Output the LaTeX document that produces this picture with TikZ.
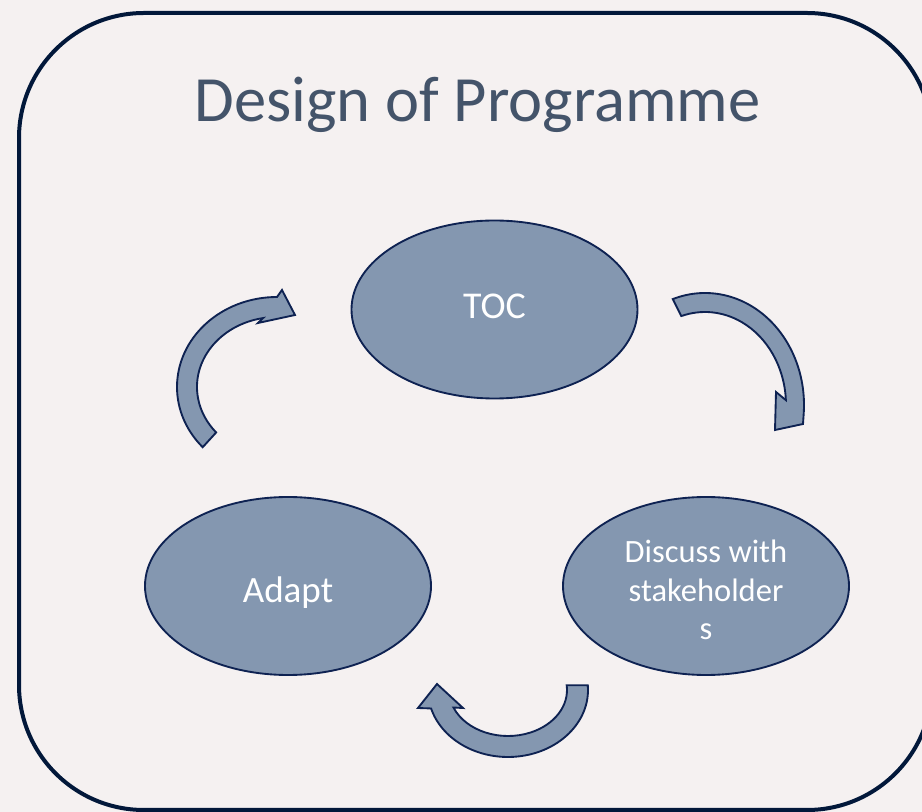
\documentclass[tikz,border=0pt]{standalone}
\usepackage{fontspec}
\setmainfont{Carlito}
\usetikzlibrary{shapes.geometric,calc}
\definecolor{bg}{RGB}{245,241,241}
\definecolor{framecol}{RGB}{2,24,58}
\definecolor{titlecol}{RGB}{68,84,106}
\definecolor{fillcol}{RGB}{132,151,176}
\definecolor{edgecol}{RGB}{14,34,82}
\begin{document}
\begin{tikzpicture}[x=0.75pt,y=-0.75pt,
  cyclenode/.style={ellipse, draw=edgecol, line width=1.4pt, fill=fillcol,
    minimum width=214.5pt, minimum height=133.5pt, inner sep=0pt,
    text=white, align=center},
  blockarrow/.style={draw=edgecol, line width=1.4pt, fill=fillcol, line join=miter},
  framebox/.style={draw=framecol, line width=3pt, rounded corners=93.75pt}]
\useasboundingbox (0,0) rectangle (922,812);
\fill[bg] (0,0) rectangle (922,812);
\clip (0,0) rectangle (922,812);
\draw[framebox] (19,13) rectangle (932,810);
\node[text=titlecol, anchor=base, inner sep=0pt,
  font=\fontsize{48.4pt}{58pt}\selectfont] (title) at (477.5,122) {Design of Programme};
\node[cyclenode, font=\fontsize{28.4pt}{34pt}\selectfont,
  text height=14.2pt, text depth=0pt] (toc) at (494.5,309.5) {TOC};
\node[cyclenode, font=\fontsize{27.8pt}{34pt}\selectfont,
  text height=24.4pt, text depth=0pt] (adapt) at (288,586) {Adapt};
\node[cyclenode, font=\fontsize{24.4pt}{28.9pt}\selectfont,
  text height=81pt, text depth=0pt] (discuss) at (706,586) {Discuss with\\stakeholder\\s};
% arrow TOC -> Discuss
\coordinate (c1) at (705,405);
\path[blockarrow] ($(c1)+(-109:99 and 112)$)
  arc[start angle=-109, end angle=4, x radius=99, y radius=112]
  -- (803,424) -- (775,430) -- (776,392)
  -- ($(c1)+(-3:81 and 93)$)
  arc[start angle=-3, end angle=-107, x radius=81, y radius=93] -- cycle;
% arrow Discuss -> Adapt
\coordinate (c2) at (508,690);
\path[blockarrow] ($(c2)+(-4:80 and 67)$)
  arc[start angle=-4, end angle=164, x radius=80, y radius=67]
  -- (418,708) -- (437,684) -- (463,708)
  -- ($(c2)+(157.6:59 and 46)$)
  arc[start angle=157.6, end angle=-6, x radius=59, y radius=46] -- cycle;
% arrow Adapt -> TOC
\coordinate (c3) at (277,387);
\path[blockarrow] ($(c3)+(138:100 and 90)$)
  arc[start angle=138, end angle=270, x radius=100, y radius=90]
  -- (282,290) -- (295,315) -- (258,323)
  -- ($(c3)+(260:80 and 70)$)
  arc[start angle=260, end angle=139.5, x radius=80, y radius=70] -- cycle;
\end{tikzpicture}
\end{document}
